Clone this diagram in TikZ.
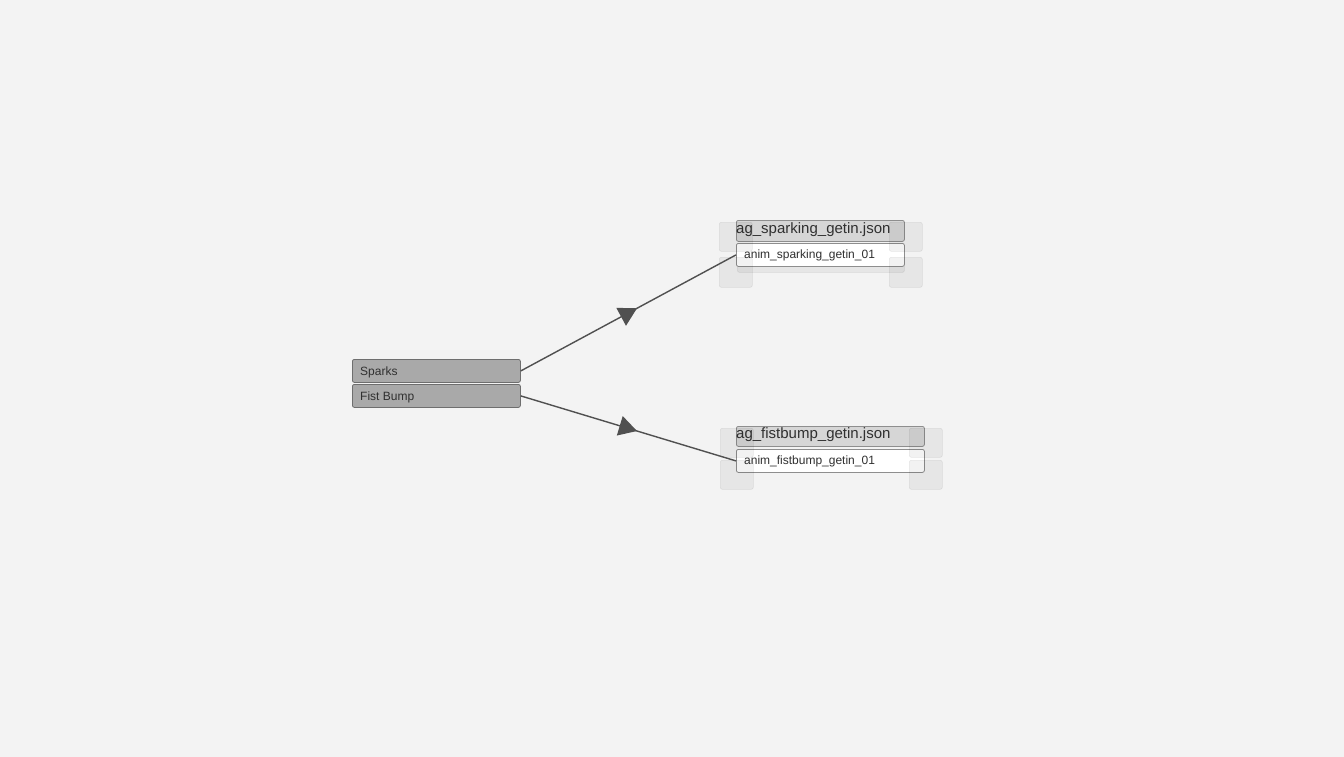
\documentclass[tikz,border=0pt]{standalone}
\usepackage{fontspec}
\setmainfont{Liberation Sans}
\usetikzlibrary{arrows.meta,decorations.markings}
\definecolor{bg}{HTML}{F3F3F3}
\definecolor{statefill}{HTML}{A9A9A9}
\definecolor{stateborder}{HTML}{6E6E6E}
\definecolor{headfill}{HTML}{D6D6D6}
\definecolor{headborder}{HTML}{8E8E8E}
\definecolor{txt}{HTML}{303030}
\definecolor{linec}{HTML}{505050}
\tikzset{
  box/.style={rectangle, rounded corners=2pt, anchor=north west, inner sep=0pt, line width=0.8pt},
  statebox/.style={box, fill=statefill, draw=stateborder},
  headbox/.style={box, fill=headfill, draw=headborder},
  rowbox/.style={box, fill=white, draw=headborder},
  handle/.style={rectangle, rounded corners=2pt, anchor=north west, inner sep=0pt, fill=black, fill opacity=0.05, draw=black, draw opacity=0.08, line width=0.6pt, minimum width=33pt, minimum height=29pt},
  smalltxt/.style={anchor=base west, inner sep=0pt, text=txt, font=\fontsize{12}{14}\selectfont},
  headtxt/.style={anchor=base west, inner sep=0pt, text=txt, font=\fontsize{15}{17}\selectfont},
  conn/.style={draw=linec, line width=1.4pt, postaction={decorate},
    decoration={markings, mark=at position 0.54 with {\arrow[linec]{Triangle[length=18pt,width=20pt]}}}}
}
\begin{document}
\begin{tikzpicture}[x=1pt,y=-1pt]
\useasboundingbox (0,0) rectangle (1344,756);
\fill[bg] (-10,-10) rectangle (1354,766);
% left states
\node[statebox, minimum width=168pt, minimum height=23pt] (sparks) at (352,359) {};
\node[statebox, minimum width=168pt, minimum height=23pt] (fist) at (352,384) {};
\node[smalltxt] (sparkst) at (360,375) {Sparks};
\node[smalltxt] (fistt) at (360,400) {Fist Bump};
% top group
\node[box, fill=black, fill opacity=0.05, draw=black, draw opacity=0.06, minimum width=167pt, minimum height=12pt] (shadow1) at (737,260) {};
\node[headbox, minimum width=168pt, minimum height=21pt] (head1) at (736,220) {};
\node[rowbox, minimum width=168pt, minimum height=23pt] (row1) at (736,243) {};
\node[headtxt] (head1t) at (736,233) {ag\_sparking\_getin.json};
\node[smalltxt] (row1t) at (744,258) {anim\_sparking\_getin\_01};
\node[handle] (h1a) at (719,222) {};
\node[handle, minimum height=30pt] (h1b) at (719,257) {};
\node[handle] (h1c) at (889,222) {};
\node[handle, minimum height=30pt] (h1d) at (889,257) {};
% bottom group
\node[headbox, minimum width=188pt, minimum height=20pt] (head2) at (736,426) {};
\node[rowbox, minimum width=188pt, minimum height=23pt] (row2) at (736,449) {};
\node[headtxt] (head2t) at (736,438) {ag\_fistbump\_getin.json};
\node[smalltxt] (row2t) at (744,464) {anim\_fistbump\_getin\_01};
\node[handle] (h2a) at (720,428) {};
\node[handle] (h2b) at (720,460) {};
\node[handle] (h2c) at (909,428) {};
\node[handle] (h2d) at (909,460) {};
% connectors
\draw[conn] (sparks.east) -- (row1.west);
\draw[conn] (fist.east) -- (row2.west);
\end{tikzpicture}
\end{document}
